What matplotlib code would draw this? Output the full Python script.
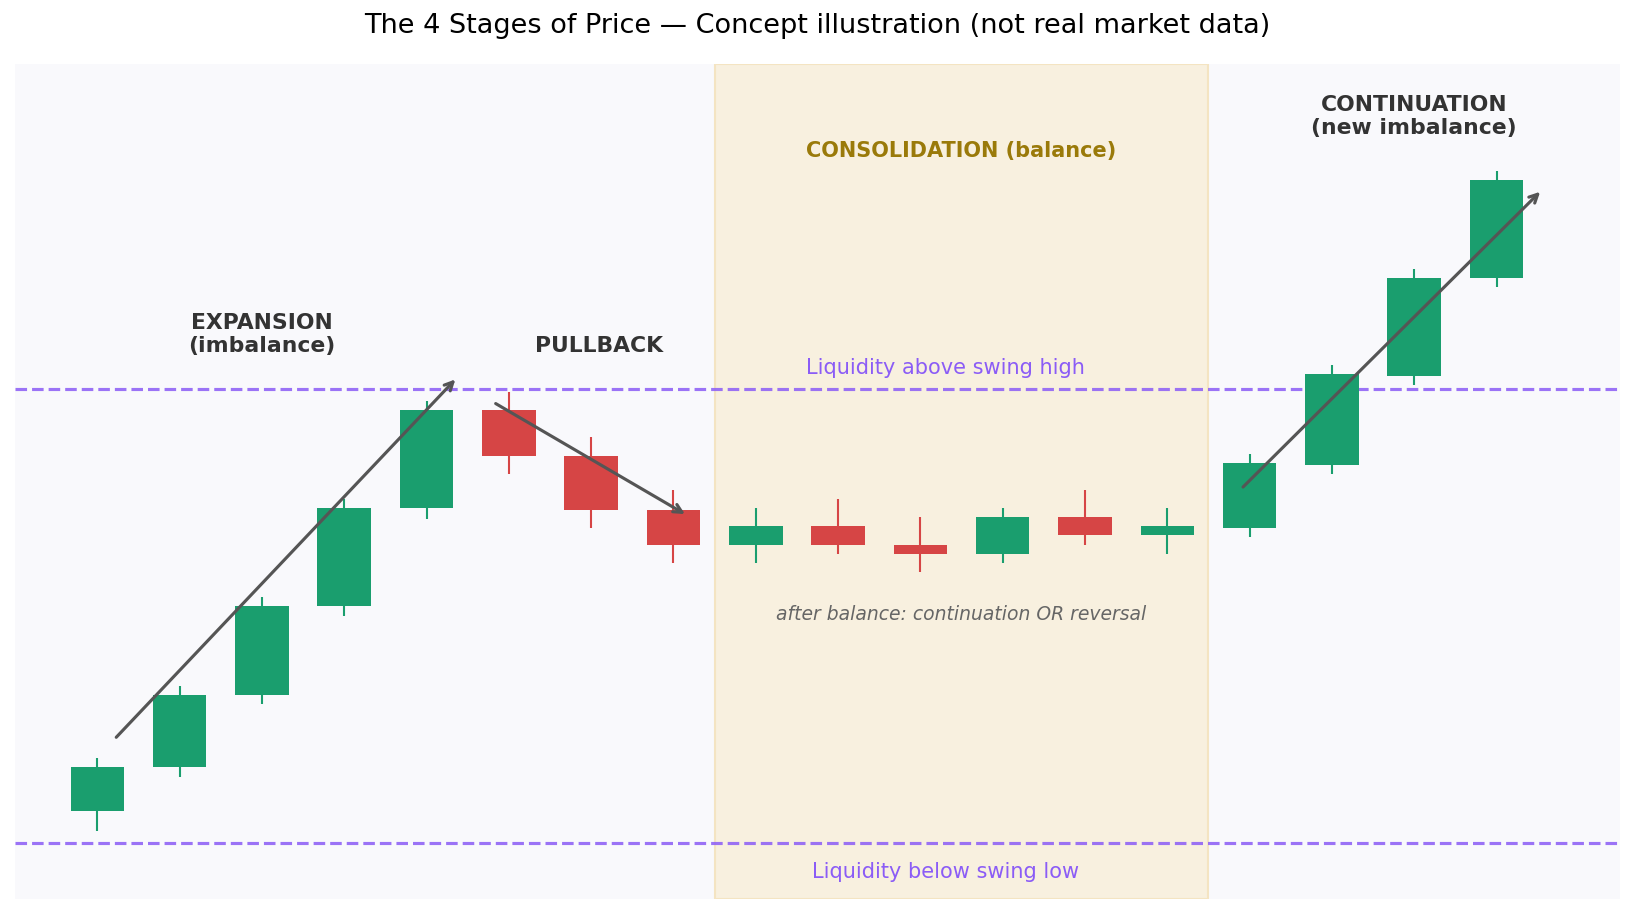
import matplotlib
matplotlib.use("Agg")
import matplotlib.pyplot as plt

# ---- data ----
opens  = [100.0, 102.45, 106.4, 111.3, 116.7, 122.1, 119.6, 116.6, 114.7, 115.7, 114.7, 114.2, 116.2, 115.2, 115.6, 119.1, 124.0, 129.4]
highs  = [102.95, 106.9, 111.8, 117.2, 122.6, 123.1, 120.6, 117.7, 116.7, 117.2, 116.2, 116.7, 117.7, 116.7, 119.7, 124.6, 129.9, 135.3]
lows   = [98.9, 101.9, 105.9, 110.75, 116.1, 118.6, 115.6, 113.7, 113.7, 114.2, 113.2, 113.7, 114.7, 114.2, 115.1, 118.6, 123.5, 128.9]
closes = [102.45, 106.4, 111.3, 116.7, 122.1, 119.6, 116.6, 114.7, 115.7, 114.7, 114.2, 116.2, 115.2, 115.7, 119.2, 124.1, 129.4, 134.8]
liq_high = 123.28
liq_low = 98.28
consol_span = (7.5, 13.5)

GREEN = "#1a9e6e"
RED = "#d64545"
PURPLE = "#8b5cf6"

fig = plt.figure(figsize=(10.9, 6.1), dpi=150)
ax = fig.add_axes([15/1635, 16/915, 1605/1635, 835/915])
ax.set_facecolor("#f9f9fc")

ax.axvspan(*consol_span, facecolor="#f8f0df", edgecolor="#f4e4c2", lw=1.0, zorder=0)

n = len(opens)
for i in range(n):
    o, h, l, c = opens[i], highs[i], lows[i], closes[i]
    col = GREEN if c >= o else RED
    ax.vlines(i, l, h, color=col, lw=1.0, zorder=2)
    ax.bar(i, abs(c - o), bottom=min(o, c), width=0.65, color=col, zorder=3)

ax.axhline(liq_high, color=PURPLE, ls="--", lw=1.5, alpha=0.85, zorder=1)
ax.axhline(liq_low, color=PURPLE, ls="--", lw=1.5, alpha=0.85, zorder=1)
ax.text(10.3, liq_high + 1.15, "Liquidity above swing high", color=PURPLE,
        fontsize=10, ha="center", va="center")
ax.text(10.3, liq_low - 1.6, "Liquidity below swing low", color=PURPLE,
        fontsize=10, ha="center", va="center")

arrow = dict(arrowstyle="->", color="#555555", lw=1.5, shrinkA=0, shrinkB=0)
ax.annotate("", xy=(4.35, 123.8), xytext=(0.23, 104.08), arrowprops=arrow, zorder=4)
ax.annotate("", xy=(7.14, 116.38), xytext=(4.84, 122.47), arrowprops=arrow, zorder=4)
ax.annotate("", xy=(17.53, 134.14), xytext=(13.92, 117.87), arrowprops=arrow, zorder=4)

ax.text(2, 126.26, "EXPANSION\n(imbalance)", fontsize=10.5, fontweight="bold",
        color="#333333", ha="center", va="center", linespacing=1.2)
ax.text(6.1, 125.63, "PULLBACK", fontsize=10.5, fontweight="bold",
        color="#333333", ha="center", va="center")
ax.text(10.5, 136.38, "CONSOLIDATION (balance)", fontsize=10, fontweight="bold",
        color="#9a7a0a", ha="center", va="center")
ax.text(16, 138.28, "CONTINUATION\n(new imbalance)", fontsize=10.5, fontweight="bold",
        color="#333333", ha="center", va="center", linespacing=1.2)
ax.text(10.5, 110.86, "after balance: continuation OR reversal", fontsize=9,
        style="italic", color="#666666", ha="center", va="center")

ax.set_xlim(-1, 18.5)
ax.set_ylim(95.17, 141.18)
ax.set_xticks([])
ax.set_yticks([])
for s in ax.spines.values():
    s.set_visible(False)

fig.text(0.5, 1 - 26/915, "The 4 Stages of Price \u2014 Concept illustration (not real market data)",
         fontsize=13, ha="center", va="center")

fig.savefig("out.png", dpi=150)
